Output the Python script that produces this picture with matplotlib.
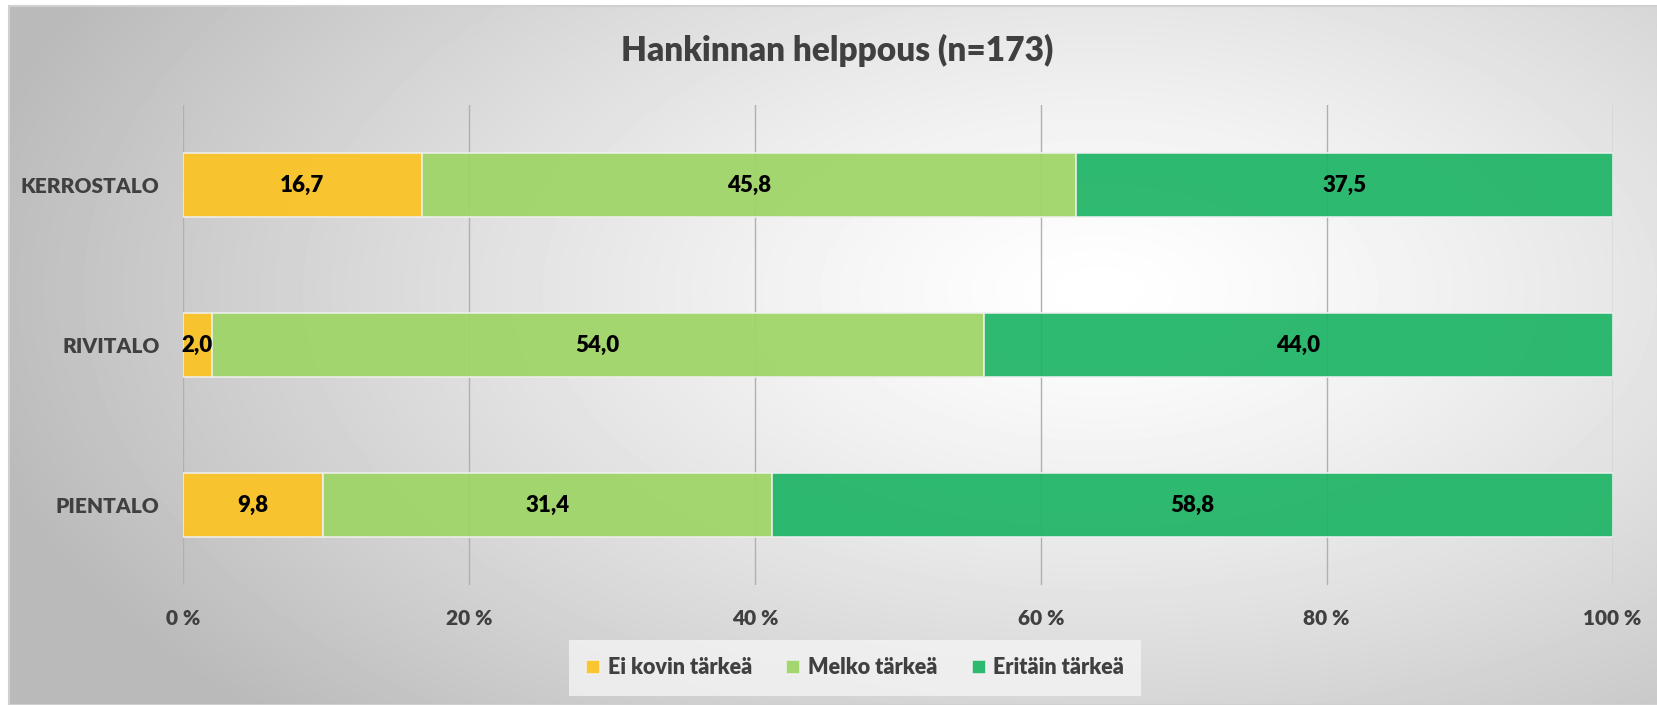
import numpy as np
import matplotlib

matplotlib.use("Agg")
import matplotlib.pyplot as plt
from matplotlib.patches import Rectangle


CATEGORIES = ["KERROSTALO", "RIVITALO", "PIENTALO"]
SERIES = ["Ei kovin tärkeä", "Melko tärkeä", "Eritäin tärkeä"]
EI_KOVIN = [16.7, 2.0, 9.8]
MELKO = [45.8, 54.0, 31.4]
ERITAIN = [37.5, 44.0, 58.8]
X_TICKS = [0, 20, 40, 60, 80, 100]
X_TICK_LABELS = ["0 %", "20 %", "40 %", "60 %", "80 %", "100 %"]

COLORS = ["#fbc323", "#9fd566", "#1fb566"]
TEXT_GREY = "#404040"
FONT = "Lato"
WEIGHT = 800

plt.rcParams["font.family"] = [FONT, "DejaVu Sans"]
plt.rcParams["font.weight"] = WEIGHT

W, H = 1658, 705
fig = plt.figure(figsize=(W / 100, H / 100), dpi=100)

# radial grey gradient background inside a framed chart area
bg = fig.add_axes([0, 0, 1, 1], zorder=-10)
bg.set_xlim(0, W)
bg.set_ylim(H, 0)
bg.axis("off")
left_px, top_px = 9, 6
xx, yy = np.meshgrid(np.linspace(left_px, W, 400), np.linspace(top_px, H, 200))
cx, cy = 1100, 290
d = np.sqrt(((xx - cx) / 1150) ** 2 + ((yy - cy) / 620) ** 2)
shade = 1.0 - 0.27 * np.clip(d, 0, 1) ** 1.3
bg.imshow(shade, cmap="gray", vmin=0, vmax=1, extent=(left_px, W, H, top_px),
          aspect="auto", interpolation="bilinear")
bg.add_patch(Rectangle((left_px, top_px), W - left_px, H - top_px, fill=False,
                       edgecolor="#d0d0d0", linewidth=1.5))

ax = fig.add_axes([183 / W, 1 - 585 / H, (1612.6 - 183) / W, 480 / H])
ax.patch.set_alpha(0)

y = np.arange(len(CATEGORIES))
left = np.zeros(len(CATEGORIES))
for name, vals, col in zip(SERIES, [EI_KOVIN, MELKO, ERITAIN], COLORS):
    ax.barh(y, vals, left=left, height=0.4, color=col, alpha=0.93,
            edgecolor="#f0f0f0", linewidth=1.2, label=name, zorder=3)
    for xi, yi, v in zip(left + np.array(vals) / 2, y, vals):
        ax.text(xi, yi, f"{v:.1f}".replace(".", ","), ha="center", va="center",
                fontsize=16, fontweight=WEIGHT, color="black", zorder=4)
    left = left + np.array(vals)

ax.set_xlim(0, 100)
ax.set_ylim(len(CATEGORIES) - 0.5, -0.5)
ax.set_yticks(y)
ax.set_yticklabels(CATEGORIES)
ax.set_xticks(X_TICKS)
ax.set_xticklabels(X_TICK_LABELS)
ax.tick_params(axis="y", length=0, pad=17, labelsize=15, labelcolor=TEXT_GREY)
ax.tick_params(axis="x", length=0, pad=17, labelsize=15, labelcolor=TEXT_GREY)
for s in ax.spines.values():
    s.set_visible(False)
ax.grid(axis="x", color="#b0b0b0", linewidth=1.0, zorder=1)
ax.set_axisbelow(True)

fig.text(837 / W, 1 - 50 / H, "Hankinnan helppous (n=173)", ha="center",
         va="center", fontsize=24, fontweight=WEIGHT, color=TEXT_GREY)

leg = fig.legend(loc="center", bbox_to_anchor=(855 / W, 1 - 668 / H), ncol=3,
                 frameon=True, fontsize=15.5, handlelength=0.65, handleheight=0.65,
                 handletextpad=0.35, columnspacing=1.6, borderpad=0.5)
leg.get_frame().set_facecolor("#f4f4f4")
leg.get_frame().set_edgecolor("none")
leg.get_frame().set_boxstyle("square")
for t in leg.get_texts():
    t.set_color(TEXT_GREY)

fig.savefig("out.png", dpi=100)
